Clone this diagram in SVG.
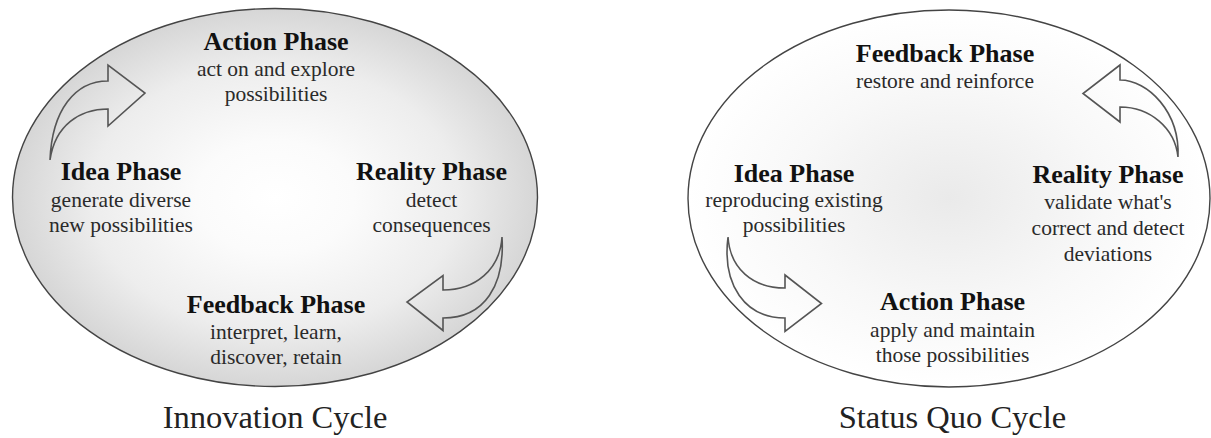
<svg xmlns="http://www.w3.org/2000/svg" width="1211" height="438" viewBox="0 0 1211 438">
<defs>
<radialGradient id="gInno" cx="50%" cy="50%" r="50%">
<stop offset="0" stop-color="#ffffff"/>
<stop offset="0.3" stop-color="#fbfbfb"/>
<stop offset="0.7" stop-color="#ededed"/>
<stop offset="1" stop-color="#d6d6d6"/>
</radialGradient>
<radialGradient id="gSQ" cx="50%" cy="50%" r="50%">
<stop offset="0" stop-color="#eaeaea"/>
<stop offset="0.6" stop-color="#f8f8f8"/>
<stop offset="1" stop-color="#ffffff"/>
</radialGradient>
<style>
.ring{stroke:#444;stroke-width:1.4}
.arrow{fill:none;stroke:#555;stroke-width:1.6;stroke-linejoin:miter}
text{font-family:"Liberation Serif","Times New Roman",serif;text-anchor:middle}
.h{font-size:26px;font-weight:bold;fill:#111}
.b{font-size:21.5px;fill:#2a2a2a}
.cap{font-size:32.5px;fill:#222}
</style>
</defs>
<rect width="1211" height="438" fill="#ffffff"/>
<g id="innovation-cycle">
<ellipse class="ring" cx="275" cy="197.5" rx="262.5" ry="189" fill="url(#gInno)"/>
<text class="cap" x="275" y="428">Innovation Cycle</text>
</g>
<g id="status-quo-cycle">
<ellipse class="ring" cx="949" cy="198.5" rx="261" ry="188.5" fill="url(#gSQ)"/>
<text class="cap" x="952.5" y="428">Status Quo Cycle</text>
</g>
<g id="inno-action">
<text class="h" x="276" y="50">Action Phase</text>
<text class="b" x="276" y="76">act on and explore</text>
<text class="b" x="276" y="101">possibilities</text>
</g>
<g id="inno-idea">
<text class="h" x="121" y="180">Idea Phase</text>
<text class="b" x="121" y="207">generate diverse</text>
<text class="b" x="121" y="232">new possibilities</text>
</g>
<g id="inno-reality">
<text class="h" x="431.5" y="180">Reality Phase</text>
<text class="b" x="431.5" y="207">detect</text>
<text class="b" x="431.5" y="232">consequences</text>
</g>
<g id="inno-feedback">
<text class="h" x="276" y="313">Feedback Phase</text>
<text class="b" x="276" y="339">interpret, learn,</text>
<text class="b" x="276" y="364">discover, retain</text>
</g>
<g id="sq-feedback">
<text class="h" x="945" y="61.5">Feedback Phase</text>
<text class="b" x="945" y="88">restore and reinforce</text>
</g>
<g id="sq-idea">
<text class="h" x="794" y="181.5">Idea Phase</text>
<text class="b" x="794" y="207">reproducing existing</text>
<text class="b" x="794" y="232">possibilities</text>
</g>
<g id="sq-reality">
<text class="h" x="1108" y="183">Reality Phase</text>
<text class="b" x="1108" y="208.5">validate what's</text>
<text class="b" x="1108" y="235">correct and detect</text>
<text class="b" x="1108" y="261">deviations</text>
</g>
<g id="sq-action">
<text class="h" x="952.5" y="310">Action Phase</text>
<text class="b" x="952.5" y="337">apply and maintain</text>
<text class="b" x="952.5" y="362">those possibilities</text>
</g>
<g id="connectors">
<path class="arrow" d="M50,160 C52,110 75,81 108,81 L108,65 L145,93 L108,126 L108,109 C80,109 55,125 50,160 Z"/>
<path class="arrow" d="M502,237 C500,270 475,290 443,290 L443,275.5 L407,302 L443,330.5 L443,318 C485,318 505,285 502,237 Z"/>
<path class="arrow" d="M1178,157 C1175,128 1150,107 1120,107 L1120,122 L1083,93.5 L1120,65 L1120,80 C1148,80 1180,112 1178,157 Z"/>
<path class="arrow" d="M728,237 C730,268 752,288 785,288 L785,275 L821.5,303.5 L785,331.5 L785,318 C745,318 722,285 728,237 Z"/>
</g>
</svg>
